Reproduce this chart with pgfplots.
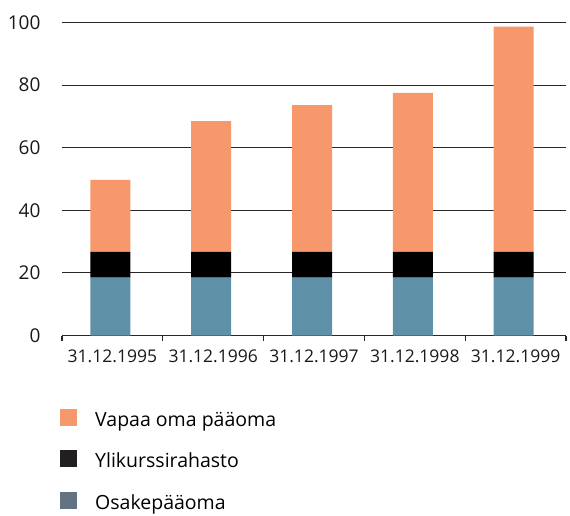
\documentclass[border=0pt]{standalone}
\usepackage{pgfplots}
\pgfplotsset{compat=1.18}
\usepackage{fontspec}
\setmainfont{Open Sans}
\definecolor{vapaa}{RGB}{247,151,108}
\definecolor{osake}{RGB}{94,145,168}
\definecolor{osakeleg}{RGB}{100,115,132}
\definecolor{ylileg}{RGB}{35,31,32}
\definecolor{gridc}{RGB}{40,40,40}
\begin{document}
\begin{tikzpicture}
\useasboundingbox (-62pt,-179.5pt) rectangle (508pt,335.5pt);
\begin{axis}[
  scale only axis,
  width=504pt, height=313pt,
  xmin=-0.5, xmax=4.5, ymin=0, ymax=100,
  ybar stacked, bar width=40pt, bar shift=-2pt,
  xtick={0,1,2,3,4},
  xticklabels={31.12.1995,31.12.1996,31.12.1997,31.12.1998,31.12.1999},
  minor xtick={-0.5,0.5,1.5,2.5,3.5,4.5},
  major tick length=0pt, minor tick length=5pt,
  tick align=outside, xtick pos=bottom, ytick pos=left,
  ytick={0,20,40,60,80,100},
  ymajorgrids, grid style={gridc, line width=1pt},
  axis x line*=bottom, axis y line*=left,
  y axis line style={draw=none},
  x axis line style={gridc, line width=1.8pt, -},
  every minor tick/.style={gridc, line width=1.3pt},
  ticklabel style={font=\fontsize{17.5}{20}\selectfont, text=black!90},
  yticklabel style={font=\fontsize{19}{22}\selectfont, xshift=-18pt},
  xticklabel style={yshift=-11pt},
  /pgf/number format/assume math mode=true,
  legend style={at={(0,0)}, anchor=north west, xshift=-2pt, yshift=-73pt,
    draw=none, fill=none, inner sep=0pt, row sep=20pt, column sep=18pt,
    font=\fontsize{19.5}{22}\selectfont,
    nodes={inner sep=0pt, text height=12pt, text depth=4pt},
    cells={anchor=west}},
  legend image code/.code={\fill[#1, draw=none] (0pt,-3.5pt) rectangle (17pt,13.5pt);},
  legend cell align=left,
]
\addlegendimage{fill=vapaa, draw=none}
\addlegendimage{fill=ylileg, draw=none}
\addlegendimage{fill=osakeleg, draw=none}
\addplot[fill=osake, draw=none, forget plot] coordinates {(0,18.5) (1,18.5) (2,18.5) (3,18.5) (4,18.5)};
\addplot[fill=black, draw=none, forget plot] coordinates {(0,8.2) (1,8.2) (2,8.2) (3,8.2) (4,8.2)};
\addplot[fill=vapaa, draw=none, forget plot] coordinates {(0,23.0) (1,41.8) (2,46.9) (3,50.8) (4,72.0)};
\legend{Vapaa oma pääoma, Ylikurssirahasto, Osakepääoma}
\end{axis}
\end{tikzpicture}
\end{document}
